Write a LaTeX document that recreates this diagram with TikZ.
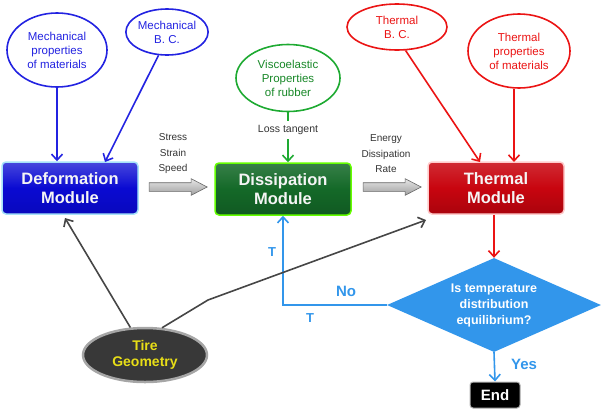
\documentclass[tikz,border=0pt]{standalone}
\usepackage{fontspec}
\setmainfont{Liberation Sans}
\usetikzlibrary{shapes.geometric,shapes.arrows,arrows.meta}
\definecolor{mblue}{RGB}{35,35,225}
\definecolor{mgreen}{RGB}{30,170,50}
\definecolor{mred}{RGB}{235,20,20}
\definecolor{fblue}{RGB}{50,150,235}
\definecolor{dgray}{RGB}{70,70,70}
\definecolor{boxblue}{RGB}{10,10,210}
\definecolor{boxgreen}{RGB}{20,105,40}
\definecolor{boxred}{RGB}{200,5,15}
\tikzset{
  oval/.style={ellipse, draw, line width=1.6pt, fill=white, align=center, font=\fontsize{11.5}{14}\selectfont, inner sep=0pt},
  module/.style={rounded corners=4pt, minimum width=136pt, minimum height=52pt, align=center, text=white!92!gray, font=\bfseries\fontsize{16.5}{19.5}\selectfont, line width=1.5pt},
  lbl/.style={align=center, font=\fontsize{10}{15.5}\selectfont, text=black!80},
  con/.style={line width=1.6pt, -{Straight Barb[length=6pt,width=11pt]}},
  fat/.style={single arrow, minimum height=58pt, inner xsep=0pt, inner ysep=4pt, single arrow head extend=4pt, single arrow tip angle=55, draw=gray!80!black, line width=0.6pt, top color=gray!20, bottom color=gray!75, shape border rotate=0},
  blt/.style={text=fblue, font=\bfseries\fontsize{15}{17}\selectfont}
}
\begin{document}
\begin{tikzpicture}[x=1pt,y=-1pt]
\useasboundingbox (0,0) rectangle (604,410);
% ellipses
\node[oval, draw=mblue, text=mblue, minimum width=100pt, minimum height=74pt] (mp) at (57,50) {Mechanical\\properties\\of materials};
\node[oval, draw=mblue, text=mblue, minimum width=78pt, minimum height=46pt] (mbc) at (167,32) {Mechanical\\B. C.};
\node[oval, draw=mgreen, text=mgreen!80!black, minimum width=104pt, minimum height=67pt] (ve) at (288,78) {Viscoelastic\\Properties\\of rubber};
\node[oval, draw=mred, text=mred, minimum width=100pt, minimum height=46pt] (tbc) at (397,27) {Thermal\\B. C.};
\node[oval, draw=mred, text=mred, minimum width=102pt, minimum height=74pt] (tp) at (519,51) {Thermal\\properties\\of materials};
% modules
\node[module, draw=cyan!35, top color=boxblue!75!white, bottom color=boxblue!90!black, middle color=boxblue] (def) at (70,188) {Deformation\\Module};
\node[module, draw=green!60!yellow, top color=boxgreen!85!white, bottom color=boxgreen!85!black, middle color=boxgreen] (dis) at (283,189) {Dissipation\\Module};
\node[module, draw=red!20, top color=boxred!85!white, bottom color=boxred!85!black, middle color=boxred] (th) at (496,188) {Thermal\\Module};
% decision
\node[diamond, fill=fblue, minimum width=214pt, minimum height=94pt, aspect=2.3, inner sep=0pt, align=center, text=white, font=\bfseries\fontsize{12.5}{16}\selectfont] (dec) at (494,305) {Is temperature\\distribution\\equilibrium?};
\node[fill=black, rounded corners=3pt, minimum width=50pt, minimum height=26pt, text=white, font=\bfseries\fontsize{15}{17}\selectfont, draw=gray!60, line width=1pt] (end) at (495,395) {End};
% tire
\node[ellipse, fill=black!78, draw=gray!70, line width=2.5pt, minimum width=124pt, minimum height=54pt, align=center, text=yellow!90!black, font=\bfseries\fontsize{14}{16}\selectfont, inner sep=0pt] (tire) at (145,355) {Tire\\Geometry};
% connectors
\draw[con, mblue] (mp.south) -- (mp.south |- def.north);
\draw[con, mblue] (mbc.250) -- (105,162);
\coordinate (lt) at (288,121);
\draw[line width=1.6pt, mgreen] (ve.south) -- (lt);
\node[lbl, font=\fontsize{10.5}{12}\selectfont] (ltl) at (288,130) {Loss tangent};
\coordinate (lt2) at (288,139);
\draw[con, mgreen] (lt2) -- (lt2 |- dis.north);
\draw[con, mred] (tbc.290) -- (480,162);
\draw[con, mred] (tp.south -| 514,0) -- (514,162);
\draw[con, mred] (th.south -| dec.north) -- (dec.north);
\draw[con, fblue] (dec.south) -- (end.north);
\node[blt] (yes) at (524,364) {Yes};
\draw[con, fblue] (dec.west) -- (dec.west -| dis.south) -- (dis.south);
\node[blt] (no) at (346,291) {No};
\node[blt, font=\bfseries\fontsize{13}{15}\selectfont] (t1) at (310,318) {T};
\node[blt, font=\bfseries\fontsize{13}{15}\selectfont] (t2) at (272,252) {T};
\draw[con, dgray] (tire.118) -- (65,218);
\coordinate (kink) at (208,300);
\draw[con, dgray] (tire.58) -- (kink) -- (426,220);
% fat arrows and labels
\node[fat] (a1) at (174,187) {};
\node[fat] (a2) at (388,187) {};
\node[lbl] (ssl) at (173,154) {Stress\\Strain\\Speed};
\node[lbl] (edl) at (386,154) {Energy\\Dissipation\\Rate};
\end{tikzpicture}
\end{document}
